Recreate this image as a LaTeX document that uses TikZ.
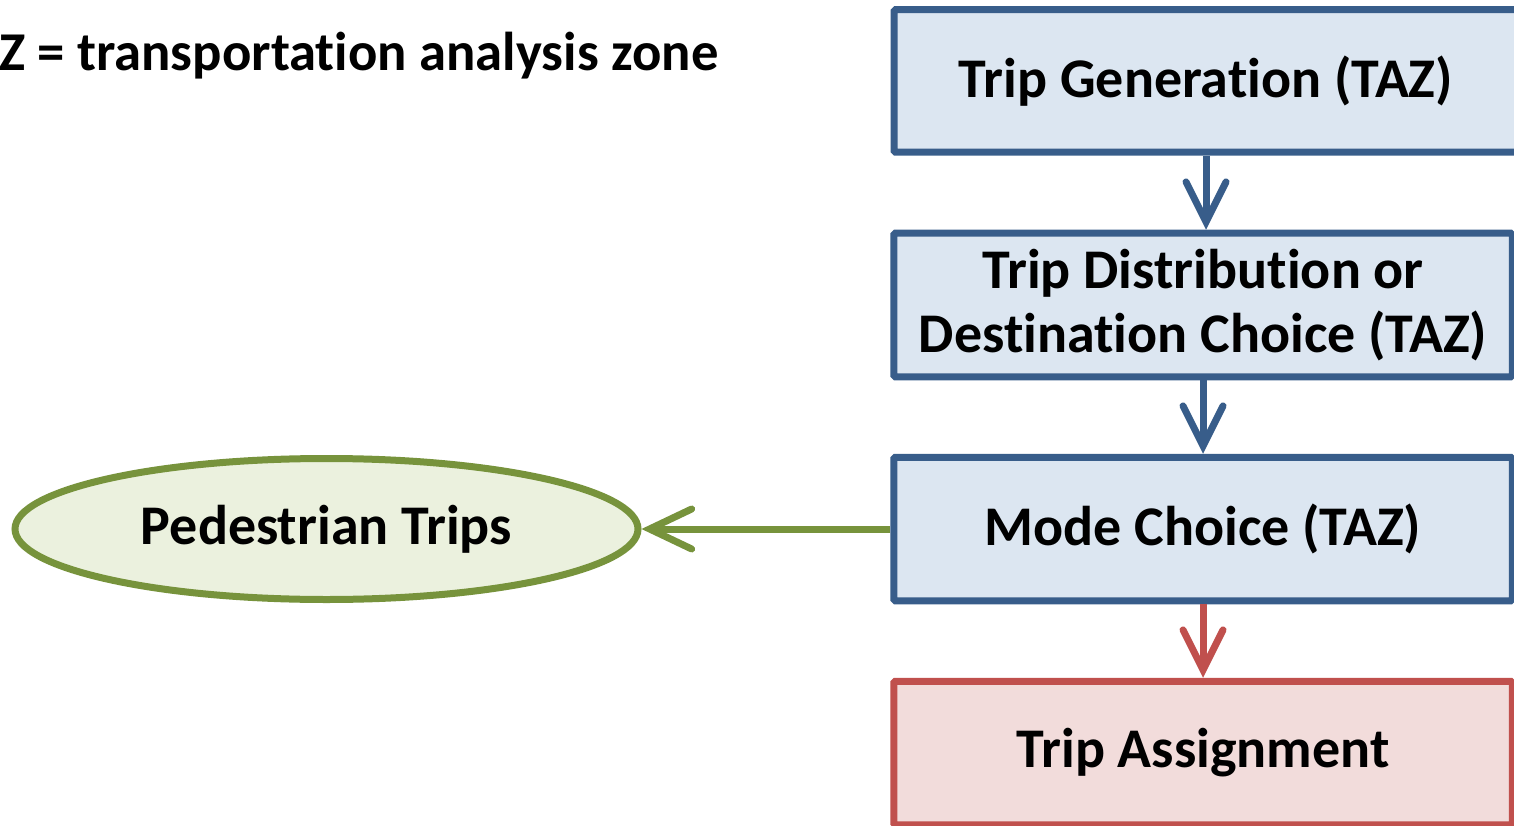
\documentclass[tikz,border=0pt]{standalone}
\usepackage{fontspec}
\setmainfont{Carlito}[Ligatures=NoCommon]
\usetikzlibrary{arrows.meta,shapes.geometric}
\definecolor{bluedge}{HTML}{385D8A}
\definecolor{bluefill}{HTML}{DCE6F1}
\definecolor{rededge}{HTML}{C0504D}
\definecolor{redfill}{HTML}{F2DCDB}
\definecolor{greenedge}{HTML}{77933C}
\definecolor{greenfill}{HTML}{EBF1DE}
\tikzset{
  x=1pt, y=-1pt,
  txt/.style={font=\fontsize{56}{64}\selectfont\bfseries, align=center},
  legendtxt/.style={font=\fontsize{54.7}{64}\selectfont\bfseries, inner sep=0pt},
  bluebox/.style={txt, draw=bluedge, fill=bluefill, line width=7pt, rounded corners=1.5pt, inner sep=0pt},
  redbox/.style={txt, draw=rededge, fill=redfill, line width=7pt, rounded corners=1.5pt, inner sep=0pt},
  pedell/.style={txt, ellipse, draw=greenedge, fill=greenfill, line width=7pt, inner sep=0pt,
    minimum width=623pt, minimum height=141pt},
  blueflow/.style={draw=bluedge, line width=7pt, -{Straight Barb[length=40pt,width=40pt,line cap=round]}},
  redflow/.style={draw=rededge, line width=7pt, -{Straight Barb[length=40pt,width=40pt,line cap=round]}},
  greenflow/.style={draw=greenedge, line width=7pt, -{Straight Barb[length=42pt,width=40pt,line cap=round]}},
}
\begin{document}
\begin{tikzpicture}
\useasboundingbox (0,0) rectangle (1514,826);
\clip (0,0) rectangle (1514,826);
\node[legendtxt, anchor=base west] (legend) at (-1,71) {Z = transportation analysis zone};
\node[bluebox, minimum width=624pt, minimum height=142.5pt] (gen) at (1206,81) {Trip Generation (TAZ)};
\node[bluebox, minimum width=618.5pt, minimum height=143.5pt] (dist) at (1203,305) {Trip Distribution or\\Destination Choice (TAZ)};
\node[bluebox, minimum width=618.5pt, minimum height=143.5pt] (mode) at (1203,529) {Mode Choice (TAZ)};
\node[redbox, minimum width=618.5pt, minimum height=143.5pt] (assign) at (1203,753) {Trip Assignment};
\node[pedell] (ped) at (326.5,529) {Pedestrian Trips};
\draw[blueflow] (gen.south) -- (gen.south |- dist.north);
\draw[blueflow] (dist.south) -- (dist.south |- mode.north);
\draw[redflow] (mode.south) -- (mode.south |- assign.north);
\draw[greenflow] (mode.west) -- (ped.east);
\end{tikzpicture}
\end{document}
